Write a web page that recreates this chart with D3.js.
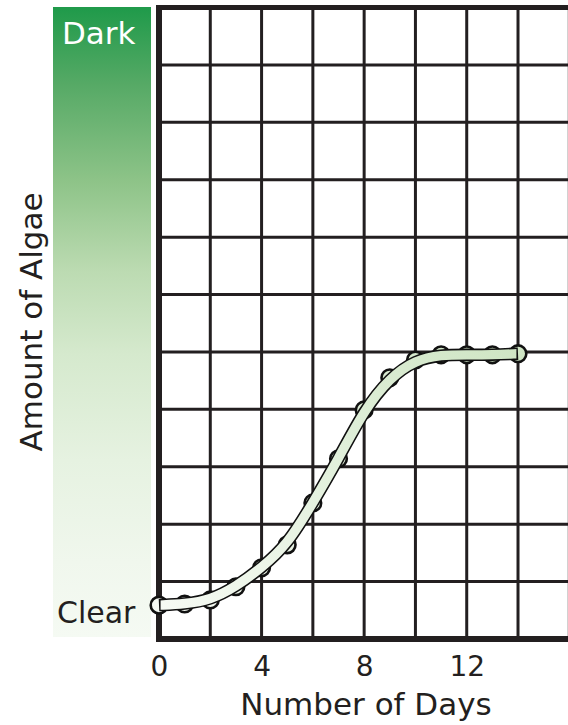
<!DOCTYPE html>
<html>
<head>
<meta charset="utf-8">
<script src="https://cdn.jsdelivr.net/npm/d3@7"></script>
<style>
  html, body { margin: 0; padding: 0; background: #fff; }
  svg { display: block; }
  text { font-family: "DejaVu Sans", Verdana, sans-serif; }
</style>
</head>
<body>
<script>
// Algae growth over two weeks (grid units on the vertical axis)
const days = [0, 1, 2, 3, 4, 5, 6, 7, 8, 9, 10, 11, 12, 13, 14];
const algae = [0.59, 0.61, 0.68, 0.91, 1.24, 1.64, 2.37, 3.14, 3.99, 4.55, 4.86, 4.95, 4.95, 4.95, 4.97];
const xTicks = [0, 4, 8, 12];
const xGrid = [2, 4, 6, 8, 10, 12, 14, 16];
const yGrid = [1, 2, 3, 4, 5, 6, 7, 8, 9, 10];
const xTitle = "Number of Days";
const yTitle = "Amount of Algae";
const darkLabel = "Dark";
const clearLabel = "Clear";

const W = 568, H = 725;
const ink = "#231f20";

const x = d3.scaleLinear().domain([0, 16]).range([159, 569.3]);
const y = d3.scaleLinear().domain([0, 11]).range([639, 7.5]);

const svg = d3.select("body").append("svg")
  .attr("width", W).attr("height", H)
  .attr("viewBox", `0 0 ${W} ${H}`);

const defs = svg.append("defs");

// colour scale bar from dark green to clear
const barGrad = defs.append("linearGradient")
  .attr("id", "barGrad").attr("x1", 0).attr("y1", 0).attr("x2", 0).attr("y2", 1);
[[0, "#1f9a4a"], [0.12, "#55a965"], [0.28, "#8fc489"], [0.42, "#bcdbb2"],
 [0.55, "#d5e9cd"], [0.72, "#e6f2e1"], [0.88, "#f0f7ed"], [1, "#f5faf3"]]
  .forEach(([o, c]) => barGrad.append("stop").attr("offset", o).attr("stop-color", c));

// fill of the growth band and markers
const bandGrad = defs.append("linearGradient")
  .attr("id", "bandGrad").attr("gradientUnits", "userSpaceOnUse")
  .attr("x1", x(0)).attr("y1", y(algae[0]))
  .attr("x2", x(14)).attr("y2", y(algae[14]));
[[0, "#f6faf4"], [0.5, "#e2f0dc"], [1, "#cfe5c4"]]
  .forEach(([o, c]) => bandGrad.append("stop").attr("offset", o).attr("stop-color", c));

defs.append("clipPath").attr("id", "bandClip")
  .append("rect")
  .attr("x", x(0) + 1.6).attr("y", 0)
  .attr("width", x(14) - x(0) - 3.2).attr("height", H);

svg.append("rect")
  .attr("x", 53).attr("y", 7)
  .attr("width", 98).attr("height", 630)
  .attr("fill", "url(#barGrad)");

svg.append("text")
  .attr("x", 62).attr("y", 44)
  .attr("fill", "#fff").attr("font-size", 31)
  .text(darkLabel);

svg.append("text")
  .attr("x", 57).attr("y", 623)
  .attr("fill", ink).attr("font-size", 30)
  .text(clearLabel);

// grid
const grid = svg.append("g").attr("stroke", ink);
grid.selectAll(".vx").data(xGrid).join("line")
  .attr("x1", d => x(d)).attr("x2", d => x(d))
  .attr("y1", y(11)).attr("y2", y(0))
  .attr("stroke-width", 3);
grid.selectAll(".hy").data(yGrid).join("line")
  .attr("x1", x(0)).attr("x2", W)
  .attr("y1", d => y(d)).attr("y2", d => y(d))
  .attr("stroke-width", 3);
// frame
grid.append("line")
  .attr("x1", x(0) - 3).attr("x2", W)
  .attr("y1", y(11)).attr("y2", y(11))
  .attr("stroke-width", 5);
grid.append("line")
  .attr("x1", x(0) - 3).attr("x2", W)
  .attr("y1", y(0)).attr("y2", y(0))
  .attr("stroke-width", 6);
grid.append("line")
  .attr("x1", x(0)).attr("x2", x(0))
  .attr("y1", y(11) - 2.5).attr("y2", y(0) + 3)
  .attr("stroke-width", 6);

const pts = days.map((d, i) => [d, algae[i]]);

// markers
svg.append("g").selectAll("circle").data(pts).join("circle")
  .attr("cx", d => x(d[0])).attr("cy", d => y(d[1]))
  .attr("r", 8.3)
  .attr("fill", "url(#bandGrad)")
  .attr("stroke", "#111").attr("stroke-width", 2.6);

// growth band
const line = d3.line()
  .x(d => x(d[0])).y(d => y(d[1]))
  .curve(d3.curveBasis);

svg.append("path")
  .attr("d", line(pts))
  .attr("fill", "none").attr("stroke", "#111")
  .attr("stroke-width", 12.5).attr("stroke-linecap", "butt");
svg.append("path")
  .attr("d", line(pts))
  .attr("clip-path", "url(#bandClip)")
  .attr("fill", "none").attr("stroke", "url(#bandGrad)")
  .attr("stroke-width", 9.4).attr("stroke-linecap", "butt");

// x axis labels
const xAxis = svg.append("g")
  .attr("transform", "translate(0,676)")
  .call(d3.axisBottom(x).tickValues(xTicks).tickSize(0).tickFormat(d3.format("d")));
xAxis.select(".domain").remove();
xAxis.selectAll("text")
  .attr("y", 0).attr("dy", 0)
  .attr("fill", ink).attr("font-size", 28)
  .attr("font-family", "DejaVu Sans, Verdana, sans-serif");

svg.append("text")
  .attr("x", 366).attr("y", 715)
  .attr("text-anchor", "middle")
  .attr("fill", ink).attr("font-size", 31)
  .text(xTitle);

svg.append("text")
  .attr("transform", "translate(42,322) rotate(-90)")
  .attr("text-anchor", "middle")
  .attr("fill", ink).attr("font-size", 31)
  .text(yTitle);
</script>
</body>
</html>
